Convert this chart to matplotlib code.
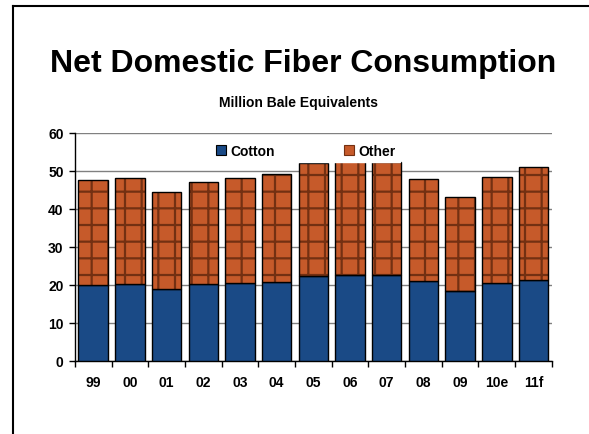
import matplotlib
matplotlib.use("Agg")
import matplotlib.pyplot as plt
from matplotlib.patches import Patch
from matplotlib.lines import Line2D
import numpy as np

plt.rcParams['font.family'] = ['Liberation Sans', 'DejaVu Sans']
plt.rcParams['hatch.linewidth'] = 1.6

years = ["99", "00", "01", "02", "03", "04", "05", "06", "07", "08", "09", "10e", "11f"]
cotton = [20.0, 20.3, 18.8, 20.2, 20.5, 20.7, 22.4, 22.7, 22.7, 21.1, 18.5, 20.5, 21.3]
total = [47.5, 48.2, 44.5, 47.1, 48.2, 49.2, 52.2, 52.6, 52.4, 47.9, 43.2, 48.4, 51.1]
other = [t - c for t, c in zip(total, cotton)]

cotton_color = "#1A4A86"
other_color = "#C65A2A"
hatch_color = "#733012"

fig = plt.figure(figsize=(5.89, 4.35), dpi=100)
ax = fig.add_axes([0.127, 0.168, 0.810, 0.524])

x = np.arange(len(years))
w = 0.8
ax.bar(x, cotton, w, color=cotton_color, edgecolor="black", linewidth=1.0, zorder=3)
ax.bar(x, other, w, bottom=cotton, color=other_color, edgecolor=hatch_color,
       linewidth=0, hatch="+", zorder=3)
ax.bar(x, other, w, bottom=cotton, facecolor="none", edgecolor="black",
       linewidth=1.0, zorder=4)

ax.set_ylim(0, 60)
ax.set_xlim(-0.5, len(years) - 0.5)
ax.set_yticks(range(0, 61, 10))
ax.yaxis.grid(True, color="#808080", linewidth=1.0, zorder=0)
ax.set_axisbelow(True)
for s in ["top", "right"]:
    ax.spines[s].set_visible(False)
ax.spines["left"].set_linewidth(1.0)
ax.spines["bottom"].set_linewidth(1.0)
ax.set_xticks(np.arange(-0.5, len(years), 1.0))
ax.set_xticklabels([])
ax.set_xticks(x, minor=True)
ax.set_xticklabels(years, minor=True)
ax.tick_params(axis="x", which="major", direction="out", length=4, width=1)
ax.tick_params(axis="x", which="minor", length=0, pad=10, labelsize=10)
ax.tick_params(axis="y", direction="out", length=4, width=1, labelsize=10, pad=4)
for lab in ax.get_xticklabels(minor=True) + ax.get_yticklabels():
    lab.set_fontweight("bold")

handles = [Patch(facecolor=cotton_color, edgecolor="black", linewidth=0.8),
           Patch(facecolor=other_color, edgecolor=hatch_color, hatch="+", linewidth=0.8)]
leg = fig.legend(handles, ["Cotton", "Other"], ncol=2, loc="center",
                 bbox_to_anchor=(0.519, 0.650), frameon=True, fancybox=False,
                 edgecolor="white", facecolor="white", framealpha=1,
                 handlelength=0.75, handleheight=0.75, handletextpad=0.3,
                 columnspacing=5.0, borderpad=0.3,
                 prop={"weight": "bold", "size": 10})
leg.set_zorder(10)

fig.text(0.515, 0.852, "Net Domestic Fiber Consumption", ha="center", va="center",
         fontsize=23, fontweight="bold")
fig.text(0.507, 0.763, "Million Bale Equivalents", ha="center", va="center",
         fontsize=10, fontweight="bold")

fig.add_artist(Line2D([0.022, 0.022], [0.0, 0.984], color="black", linewidth=1.5,
                      transform=fig.transFigure))
fig.add_artist(Line2D([0.022, 1.0], [0.984, 0.984], color="black", linewidth=1.5,
                      transform=fig.transFigure))

fig.savefig("out.png", dpi=100)
